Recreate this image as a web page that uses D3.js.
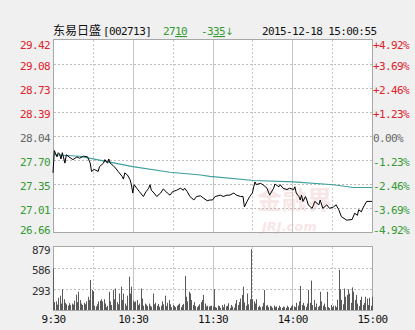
<!DOCTYPE html>
<html><head><meta charset="utf-8">
<script src="https://cdn.jsdelivr.net/npm/d3@7"></script>
<style>body{margin:0;background:#f0f0f0;} svg{display:block}</style>
</head><body><svg id="c" width="415" height="330"></svg>
<script>
// ---- data ----
const stockName = "东易日盛";
const stockCode = "[002713]";
const lastPriceMain = "27", lastPriceDec = "10";
const changeMain = "-3", changeDec = "35", changeArrow = "↓";
const timestamp = "2015-12-18 15:00:55";
const prevClose = 28.04;

const priceTicks = [29.42, 29.08, 28.73, 28.39, 28.04, 27.70, 27.35, 27.01, 26.66];
const pctLabels = ["+4.92%", "+3.69%", "+2.46%", "+1.23%", "0.00%", "-1.23%", "-2.46%", "-3.69%", "-4.92%"];
const volTicks = [879, 586, 293];
const timeTickMinutes = [0, 60, 120, 180, 240];
const timeLabels = ["9:30", "10:30", "11:30", "14:00", "15:00"];

// minute index (0 = 9:30, 120 = 11:30/13:00, 240 = 15:00) and price
const priceMinutes = [0,1,3,4,5,6,7,9,10,12,15,18,20,23,26,28,29,31,34,35,38,39,41,42,43,45,47,49,52,53,54,56,58,59,60,61,63,65,68,70,72,73,74,76,78,81,83,86,88,90,93,96,98,99,101,103,106,108,111,113,116,118,120,
  122,126,128,131,133,136,138,141,143,144,146,148,150,151,152,153,156,158,161,163,166,167,170,171,173,176,178,181,182,183,185,186,187,188,190,191,192,195,197,200,201,203,206,208,211,213,215,217,221,225,227,229,230,232,233,236,240];
const prices = [27.51,27.83,27.74,27.80,27.78,27.71,27.80,27.65,27.77,27.74,27.70,27.74,27.72,27.75,27.74,27.65,27.53,27.56,27.53,27.60,27.65,27.70,27.65,27.71,27.65,27.62,27.58,27.53,27.46,27.42,27.51,27.48,27.41,27.34,27.22,27.34,27.29,27.24,27.17,27.24,27.29,27.34,27.26,27.22,27.17,27.22,27.28,27.22,27.19,27.24,27.26,27.29,27.26,27.29,27.24,27.17,27.12,27.17,27.18,27.15,27.11,27.12,27.12,
  27.17,27.19,27.17,27.19,27.19,27.22,27.19,27.17,27.17,27.02,27.10,27.17,27.22,27.31,27.38,27.34,27.36,27.34,27.29,27.19,27.29,27.35,27.31,27.34,27.29,27.27,27.29,27.27,27.31,27.22,27.17,27.12,27.19,27.10,27.17,27.12,27.05,27.00,27.10,27.05,27.12,27.00,27.05,27.00,27.02,27.05,26.98,26.88,26.83,26.84,26.93,26.90,26.98,26.95,27.00,27.10,27.10];

const avgMinutes = [1, 20, 33, 60, 88, 111, 118, 151, 181, 211, 226, 240];
const avgPrices  = [27.77, 27.75, 27.70, 27.60, 27.52, 27.48, 27.46, 27.40, 27.38, 27.34, 27.30, 27.30];

// volume per minute, index 0..240
const volumes = [
 580,110,120,75,170,200,90,290,150,100,80,60,95,70,90,75,130,215,110,255,140,90,70,100,80,120,185,140,420,280,
 260,60,50,80,120,130,150,120,150,90,40,60,255,120,70,280,150,300,110,80,230,325,140,230,90,60,200,465,230,325,
 130,110,120,140,70,90,300,160,60,90,75,55,90,60,45,230,80,100,60,85,45,60,120,80,200,55,100,140,80,40,
 70,55,40,60,75,90,40,70,85,475,185,120,255,230,140,70,110,55,40,60,80,110,140,210,90,50,60,50,55,60,
 50,
 290,40,30,60,55,30,70,40,80,50,60,95,30,70,50,30,90,140,70,110,160,210,325,105,60,230,80,150,850,150,
 120,90,150,40,60,40,50,100,280,60,70,40,60,50,30,60,40,50,30,60,40,30,50,40,30,60,40,30,50,70,
 50,40,100,60,120,335,70,100,60,40,90,280,100,410,70,140,40,90,40,60,255,120,60,90,40,255,40,25,70,40,
 60,60,40,145,560,290,140,80,300,185,210,290,230,100,315,255,140,210,90,55,140,185,70,100,185,160,70,170,60,185];

// ---- drawing ----
const red = "#e0222a", green = "#349a34", gray = "#666666";
const mono = "DejaVu Sans Mono";
const svg = d3.select("#c");
svg.append("rect").attr("width",415).attr("height",330).attr("fill","#f0f0f0");

const x = d3.scaleLinear().domain([0, 240]).range([53, 372]);
const y = d3.scaleLinear().domain([26.66, 29.42]).range([232, 40]);
const yv = d3.scaleLinear().domain([0, 879]).range([310, 247]);

// panels
svg.append("rect").attr("x",53.5).attr("y",39.5).attr("width",319).attr("height",193)
  .attr("fill","#ffffff").attr("stroke","#a8a8a8");
svg.append("rect").attr("x",53.5).attr("y",246.5).attr("width",319).attr("height",64)
  .attr("fill","#ffffff").attr("stroke","#a8a8a8");

// watermark
const wm = svg.append("g").attr("opacity",0.25);
wm.append("text").attr("x",257).attr("y",209).attr("font-family","Noto Sans CJK SC").attr("font-weight","bold")
  .attr("font-size",25).attr("fill","#e4a0a0").text("金融界");
wm.append("text").attr("x",262).attr("y",231).attr("font-family","DejaVu Sans").attr("font-weight","bold").attr("font-style","italic")
  .attr("font-size",13).attr("fill","#e4a0a0").text("JRJ.com");

// grid
const grid = svg.append("g");
priceTicks.slice(1, -1).forEach(p => {
  grid.append("line").attr("x1",54).attr("x2",372).attr("y1",Math.round(y(p))+0.5).attr("y2",Math.round(y(p))+0.5)
    .attr("stroke", "#bdbdbd").attr("stroke-dasharray","2,2");
});
volTicks.slice(1).forEach(v => {
  grid.append("line").attr("x1",54).attr("x2",372).attr("y1",Math.round(yv(v))+0.5).attr("y2",Math.round(yv(v))+0.5)
    .attr("stroke","#bdbdbd").attr("stroke-dasharray","2,2");
});
[30,60,90,120,150,180,210].forEach(m => {
  const solid = m % 60 === 0;
  [[40,232],[247,310]].forEach(([a,b]) => {
    grid.append("line").attr("x1",Math.round(x(m))+0.5).attr("x2",Math.round(x(m))+0.5).attr("y1",a).attr("y2",b)
      .attr("stroke", solid ? "#c4c4c4" : "#c8c8c8").attr("stroke-dasharray", solid ? null : "2,2");
  });
});

// volume bars
svg.append("g").selectAll("rect").data(volumes).join("rect")
  .attr("x",(d,i)=>Math.round(x(i))).attr("width",1)
  .attr("y",d=>yv(d)).attr("height",d=>310 - yv(d)).attr("fill","#5a5a5a");

// average line
svg.append("path").datum(avgMinutes.map((m,i)=>[m,avgPrices[i]]))
  .attr("d", d3.line().x(d=>x(d[0])).y(d=>y(d[1])))
  .attr("fill","none").attr("stroke","#3f9e9e").attr("stroke-width",1.1);

// price line
svg.append("path").datum(priceMinutes.map((m,i)=>[m,prices[i]]))
  .attr("d", d3.line().x(d=>x(d[0])).y(d=>y(d[1])))
  .attr("fill","none").attr("stroke","#000").attr("stroke-width",1);

// axes
function styleAxis(g){ g.select(".domain").remove(); g.selectAll("line").remove();
  g.selectAll("text").attr("font-family",mono).attr("font-size",11).attr("letter-spacing","-0.6px"); }
const colorFor = d => d > prevClose + 1e-9 ? red : (d < prevClose - 1e-9 ? green : gray);
const offFor = (i, n) => i === 0 ? 5 : (i === n-1 ? -2 : 2);

const gL = svg.append("g").attr("transform","translate(53,0)")
  .call(d3.axisLeft(y).tickValues(priceTicks).tickSize(0).tickPadding(3).tickFormat(d3.format(".2f")));
styleAxis(gL);
gL.selectAll("text").attr("fill", d=>colorFor(d)).attr("y",(d,i)=>offFor(i,priceTicks.length));

const gR = svg.append("g").attr("transform","translate(372,0)")
  .call(d3.axisRight(y).tickValues(priceTicks).tickSize(0).tickPadding(1).tickFormat((d,i)=>pctLabels[i]));
styleAxis(gR);
gR.selectAll("text").attr("fill", d=>colorFor(d)).attr("y",(d,i)=>offFor(i,priceTicks.length));

const gV = svg.append("g").attr("transform","translate(53,0)")
  .call(d3.axisLeft(yv).tickValues(volTicks).tickSize(0).tickPadding(3).tickFormat(d3.format("d")));
styleAxis(gV);
gV.selectAll("text").attr("fill","#333").attr("y",(d,i)=> i===0 ? 3 : 2);

const gT = svg.append("g").attr("transform","translate(0,310)")
  .call(d3.axisBottom(x).tickValues(timeTickMinutes).tickSize(0).tickPadding(5).tickFormat((d,i)=>timeLabels[i]));
styleAxis(gT);
gT.selectAll("text").attr("fill","#111");

// header
const hy = 35;
svg.append("text").attr("x",53).attr("y",hy).attr("font-family","Noto Sans CJK SC").attr("font-size",12).attr("fill","#111").text(stockName);
const hm = (t, xx, col) => svg.append("text").attr("x",xx).attr("y",hy).attr("font-family",mono).attr("font-size",11)
  .attr("letter-spacing","-0.6px").attr("fill",col).text(t);
hm(stockCode, 103, "#111");
const p1 = hm(lastPriceMain, 163, green);
p1.append("tspan").attr("text-decoration","underline").text(lastPriceDec);
const p2 = hm(changeMain, 201, green);
p2.append("tspan").attr("text-decoration","underline").text(changeDec);
p2.append("tspan").attr("font-family","DejaVu Sans").attr("font-size",10).text(changeArrow);
hm(timestamp, 262, "#111");
</script></body></html>
